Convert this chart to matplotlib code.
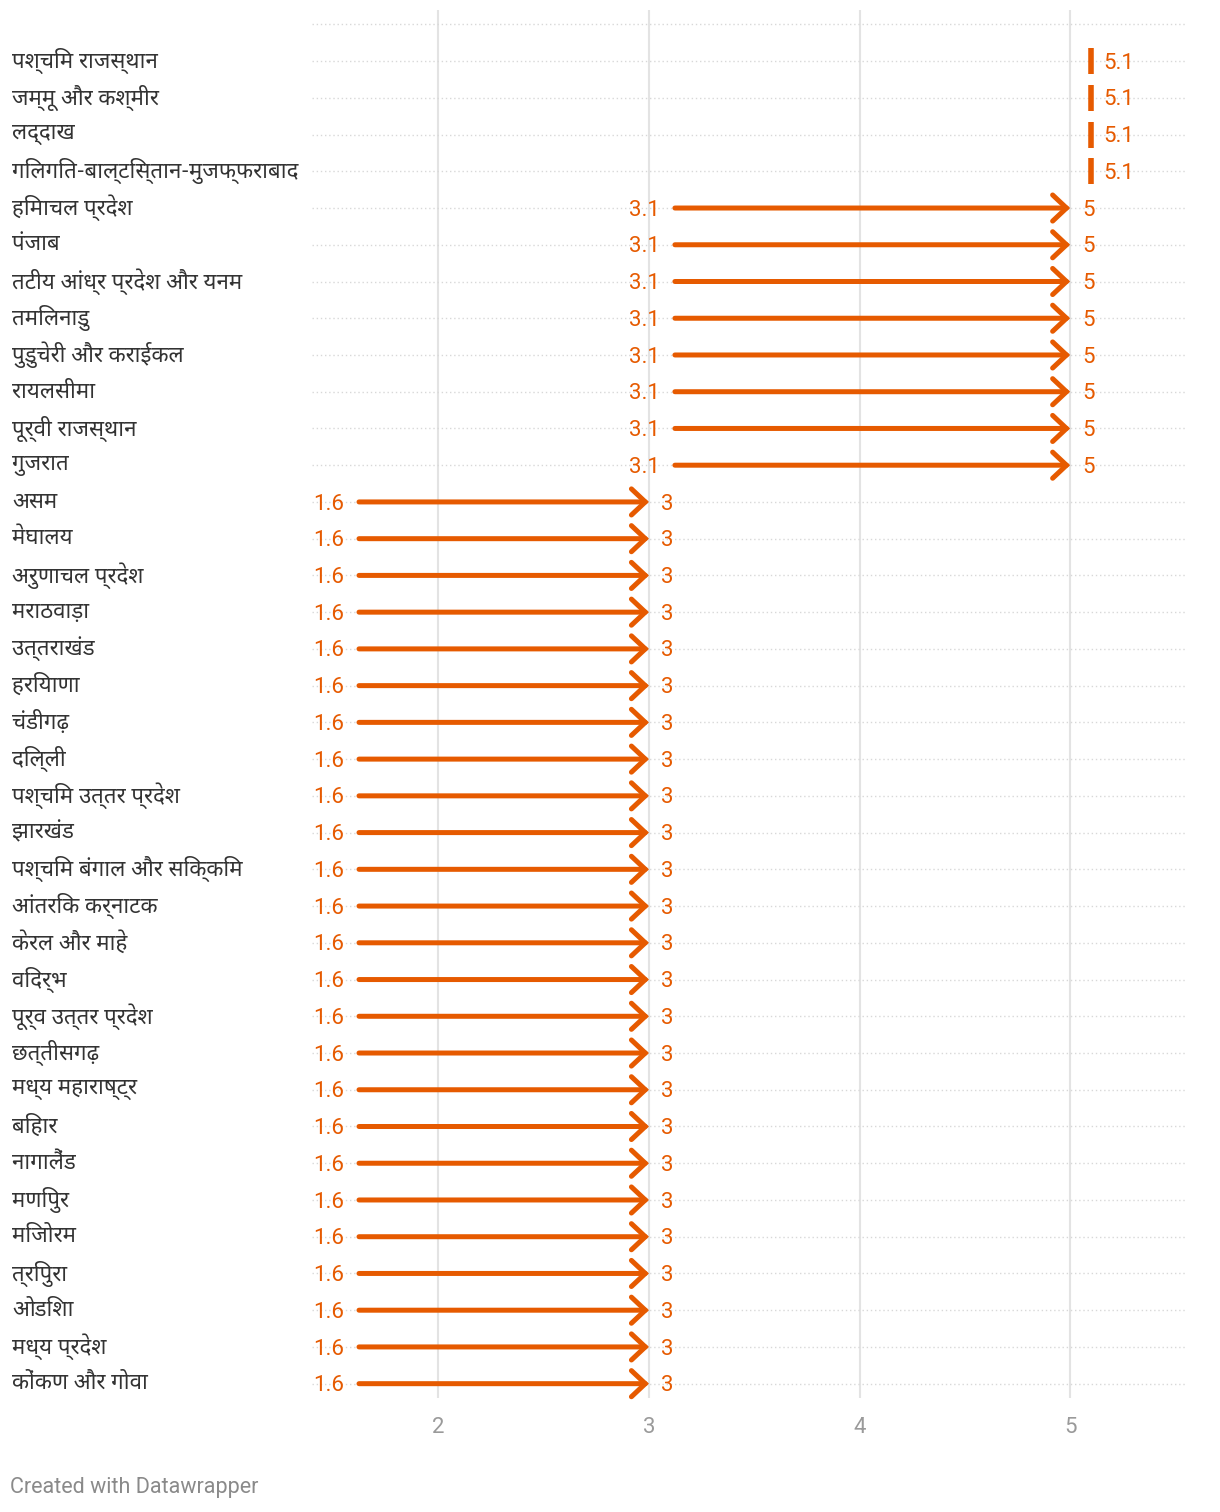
import matplotlib
matplotlib.use("Agg")
import matplotlib.pyplot as plt
from matplotlib import font_manager
from matplotlib.ft2font import FT2Font
from matplotlib.transforms import blended_transform_factory

# data
regions = ["पश्चिम राजस्थान", "जम्मू और कश्मीर", "लद्दाख", "गिलगित-बाल्टिस्तान-मुजफ्फराबाद",
           "हिमाचल प्रदेश", "पंजाब", "तटीय आंध्र प्रदेश और यनम", "तमिलनाडु",
           "पुडुचेरी और कराईकल", "रायलसीमा", "पूर्वी राजस्थान", "गुजरात",
           "असम", "मेघालय", "अरुणाचल प्रदेश", "मराठवाड़ा", "उत्तराखंड", "हरियाणा",
           "चंडीगढ़", "दिल्ली", "पश्चिम उत्तर प्रदेश", "झारखंड", "पश्चिम बंगाल और सिक्किम",
           "आंतरिक कर्नाटक", "केरल और माहे", "विदर्भ", "पूर्व उत्तर प्रदेश", "छत्तीसगढ़",
           "मध्य महाराष्ट्र", "बिहार", "नागालैंड", "मणिपुर", "मिजोरम", "त्रिपुरा", "ओडिशा",
           "मध्य प्रदेश", "कोंकण और गोवा"]
start_vals = [5.1] * 4 + [3.1] * 8 + [1.6] * 25
end_vals = [5.1] * 4 + [5] * 8 + [3] * 25
x_ticks = [2, 3, 4, 5]

ORANGE = "#e65a00"

# pick a font that has devanagari glyphs
cands = []
for f in font_manager.fontManager.ttflist:
    try:
        if 0x092A in FT2Font(f.fname).get_charmap():
            cands.append(f.name)
    except Exception:
        pass
deva = None
for want in ["Noto Sans Devanagari", "Noto Sans Devanagari UI", "Hind", "Mukta"]:
    if want in cands:
        deva = want
        break
if deva is None and cands:
    deva = cands[0]
label_family = [deva, "DejaVu Sans"] if deva else ["DejaVu Sans"]

plt.rcParams["font.family"] = ["Roboto", "DejaVu Sans"]

fig = plt.figure(figsize=(12.2, 15.12), dpi=100)
ax = fig.add_axes([312 / 1220, 1 - 1398 / 1512, (1186 - 312) / 1220, (1398 - 10) / 1512])

n = len(regions)
ax.set_xlim(1.4, 5.55)
ax.set_ylim(n - 1 + 0.39, -1.39)

# grid
for xt in x_ticks:
    ax.axvline(xt, color="#e3e3e3", lw=1.5, zorder=0)
for i in range(-1, n):
    ax.axhline(i, color="#d8d8d8", lw=1, ls=(0, (1, 2)), zorder=0)

for i, (s, e) in enumerate(zip(start_vals, end_vals)):
    if s == e:
        # no change -> just a small tick
        ax.plot([s], [i], marker="|", ms=19, mew=4, color=ORANGE, zorder=3)
    else:
        ax.annotate("", xy=(e, i), xytext=(s, i),
                    arrowprops=dict(arrowstyle="->,head_length=0.5,head_width=0.47",
                                    lw=3.6, color=ORANGE, shrinkA=3.5, shrinkB=0,
                                    mutation_scale=20, capstyle="round", joinstyle="miter"),
                    zorder=3)
        ax.annotate(f"{s:g}", (s, i), xytext=(-7, -1.5), textcoords="offset points",
                    ha="right", va="center", color=ORANGE, fontsize=16)
    ax.annotate(f"{e:g}", (e, i), xytext=(8.5, -1.5), textcoords="offset points",
                ha="left", va="center", color=ORANGE, fontsize=16)

trans = blended_transform_factory(fig.transFigure, ax.transData)
for i, r in enumerate(regions):
    ax.text(12 / 1220, i, r, transform=trans, ha="left", va="center",
            fontsize=16, color="#333333", family=label_family)

ax.set_xticks(x_ticks)
ax.set_xticklabels([str(t) for t in x_ticks])
ax.set_yticks([])
ax.tick_params(axis="x", length=0, pad=14, labelsize=16, labelcolor="#9a9a9a")
for sp in ax.spines.values():
    sp.set_visible(False)

fig.text(10 / 1220, 1 - 1487 / 1512, "Created with Datawrapper", ha="left", va="center",
         fontsize=15.5, color="#8a8a8a")

fig.savefig("out.png", dpi=100)
